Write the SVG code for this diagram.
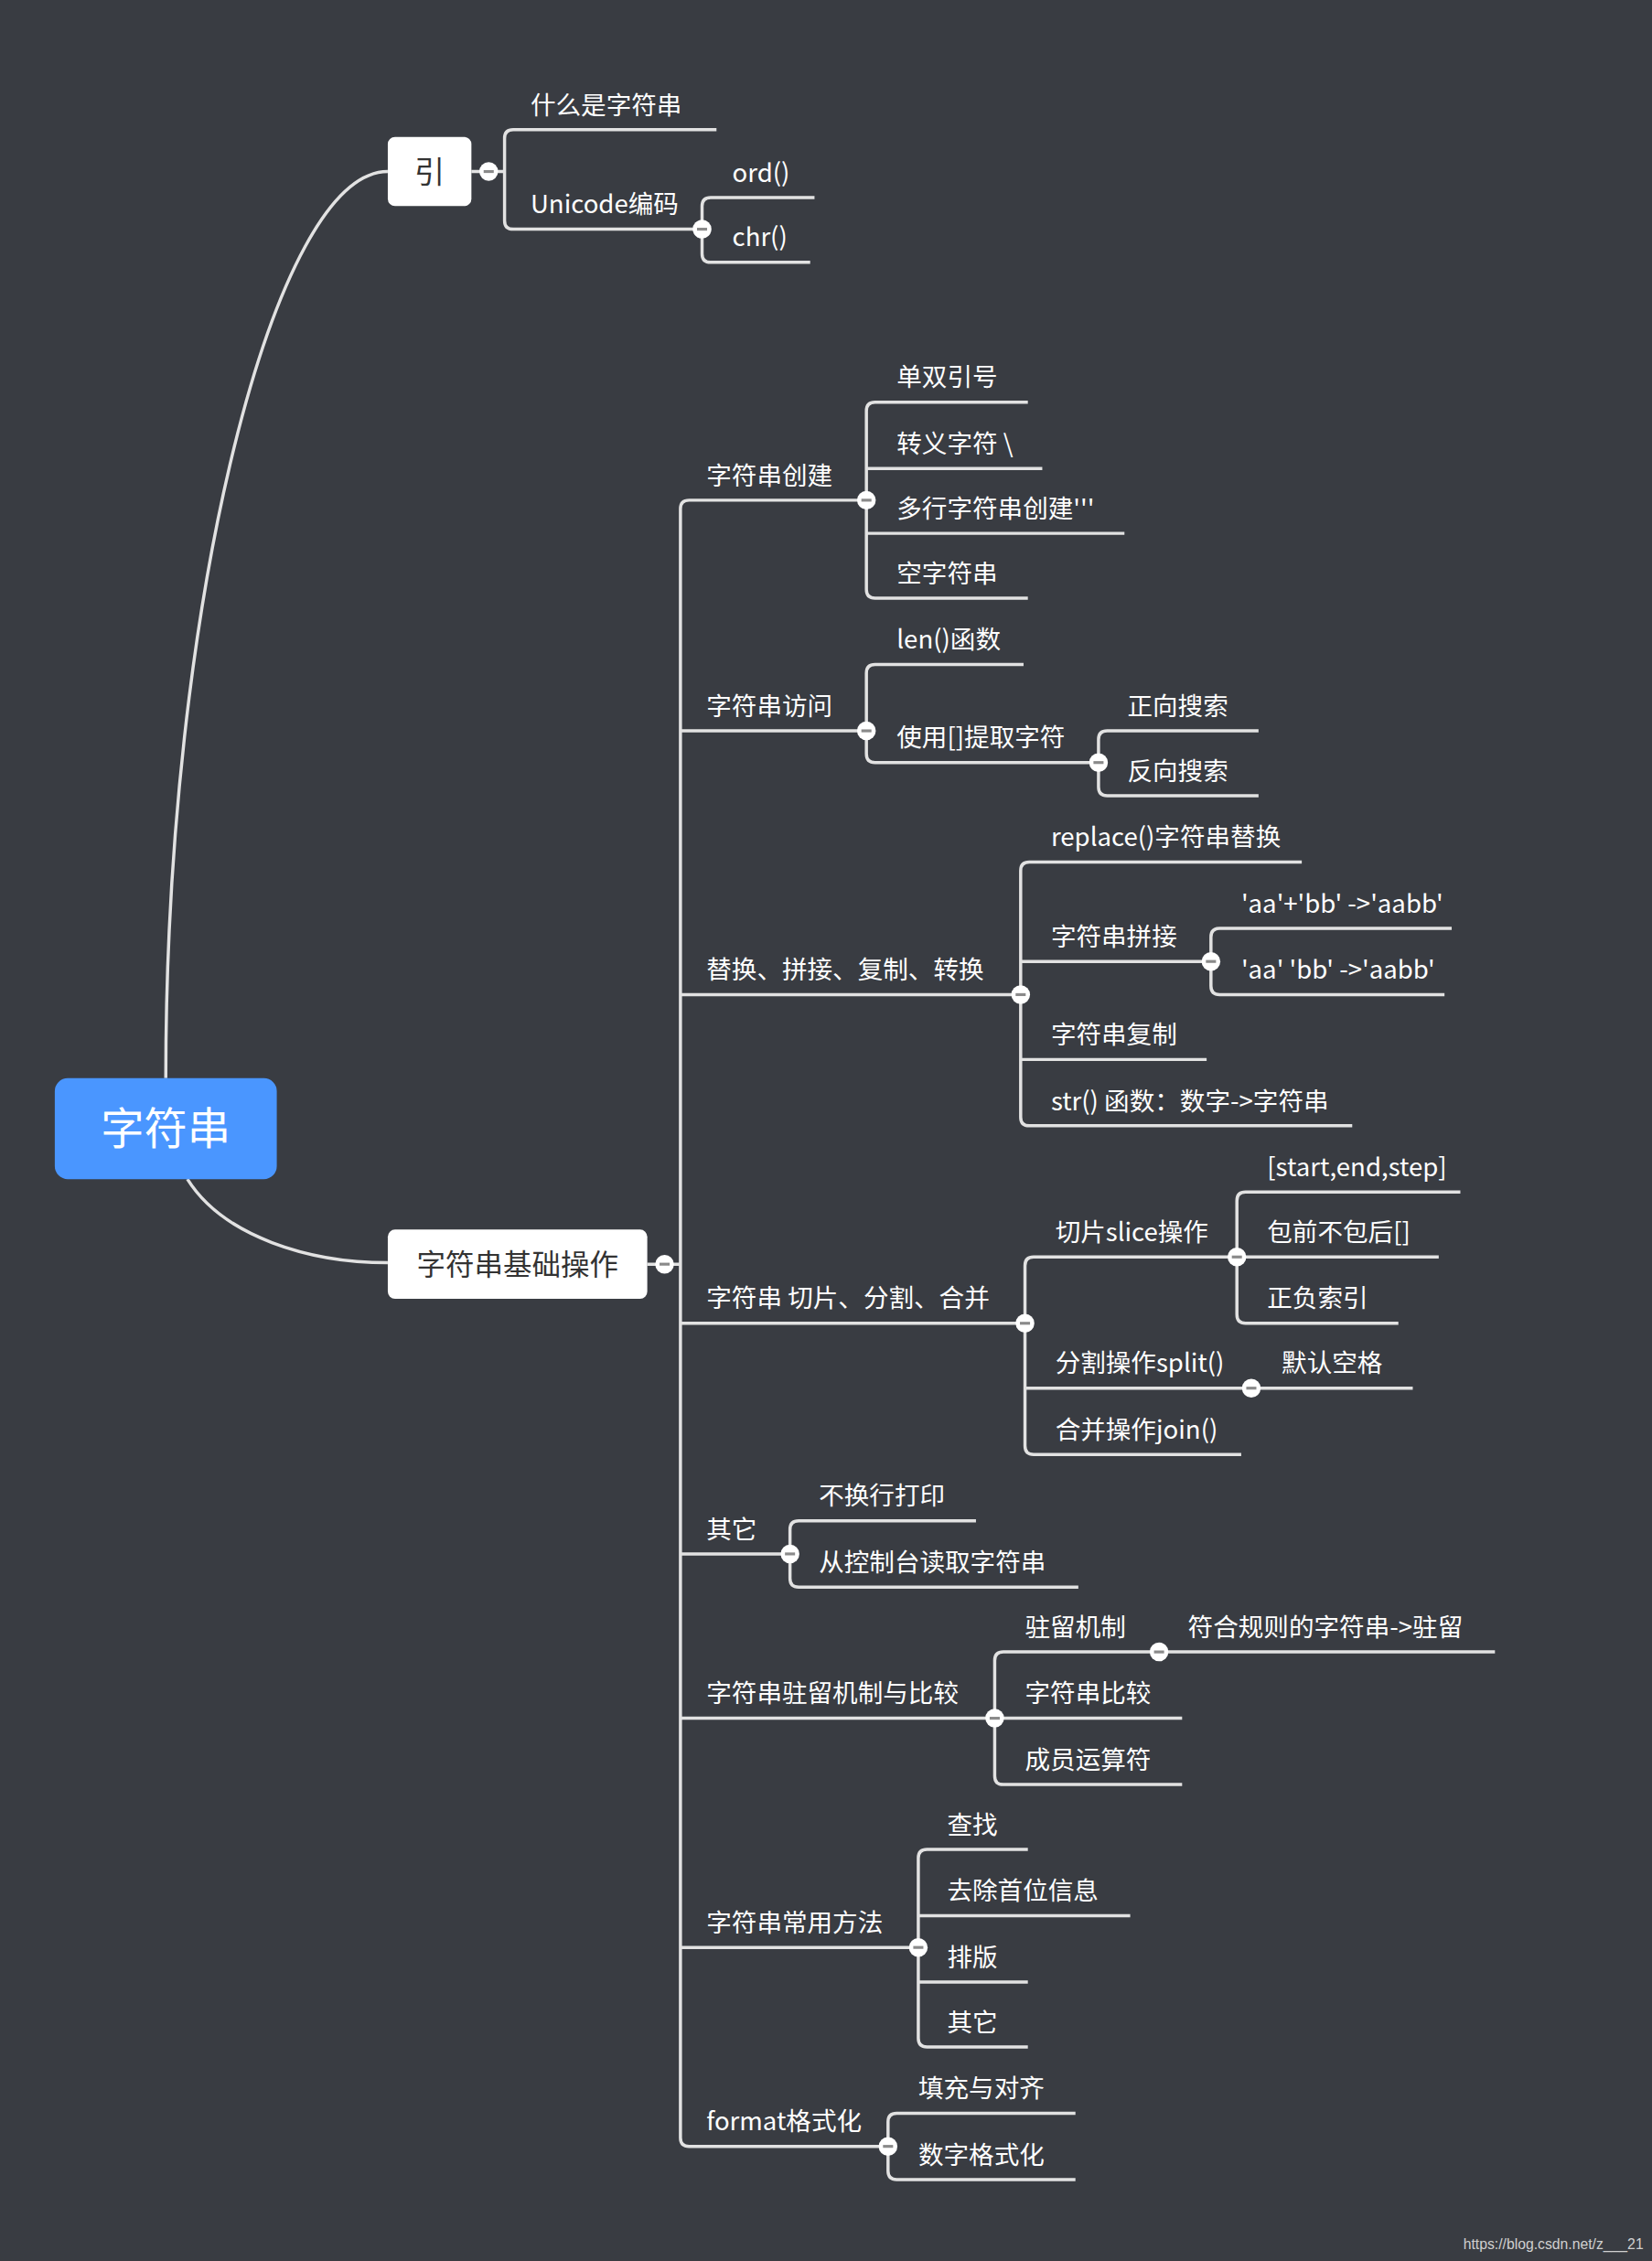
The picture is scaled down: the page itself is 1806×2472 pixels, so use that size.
<svg xmlns="http://www.w3.org/2000/svg" width="1806" height="2472" viewBox="0 0 1806 2472">
<style>
.l{fill:none;stroke:#e2e2e2;stroke-width:2.2}
.t{fill:#fff;font-size:17.5px;font-family:"Noto Sans CJK SC","Noto Sans",sans-serif}
.c{fill:#fff}
.m{fill:#8a8a8a}
</style>
<defs>
<g id="col"><circle class="c" r="6.5"/><rect class="m" x="-3.5" y="-1" width="7" height="2"/></g>
</defs>
<rect width="1806" height="2472" fill="#393c42"/>
<g transform="scale(1.576)">
<g id="connectors">
<path class="l" d="M115,748 C115,420 190,119 269,119"/>
<path class="l" d="M130,818 C155,858 215,876 269,876"/>
<path class="l" d="M327,119H350"/>
<path class="l" d="M497,90H356Q350,90 350,96V153Q350,159 356,159H487"/>
<path class="l" d="M565,137H493Q487,137 487,143V176Q487,182 493,182H562"/>
<path class="l" d="M449,877H472"/>
<path class="l" d="M601,347H478Q472,347 472,353V1483Q472,1489 478,1489H616"/>
<path class="l" d="M472,507H601M472,690H708M472,918H711M472,1078H548M472,1192H690M472,1351H637"/>
<path class="l" d="M713,279H607Q601,279 601,285V409Q601,415 607,415H713M601,325H723M601,370H780"/>
<path class="l" d="M710,461H607Q601,461 601,467V523Q601,529 607,529H762"/>
<path class="l" d="M873,507H768Q762,507 762,513V546Q762,552 768,552H873"/>
<path class="l" d="M903,598H714Q708,598 708,604V775Q708,781 714,781H938M708,667H840M708,735H837"/>
<path class="l" d="M1007,644H846Q840,644 840,650V684Q840,690 846,690H1002"/>
<path class="l" d="M858,872H717Q711,872 711,878V1003Q711,1009 717,1009H861M711,963H868"/>
<path class="l" d="M1013,827H864Q858,827 858,833V912Q858,918 864,918H970M858,872H998"/>
<path class="l" d="M868,963H980"/>
<path class="l" d="M677,1055H554Q548,1055 548,1061V1095Q548,1101 554,1101H748"/>
<path class="l" d="M804,1146H696Q690,1146 690,1152V1232Q690,1238 696,1238H820M690,1192H820"/>
<path class="l" d="M804,1146H1037"/>
<path class="l" d="M713,1283H643Q637,1283 637,1289V1414Q637,1420 643,1420H713M637,1329H784M637,1375H713"/>
<path class="l" d="M746,1466H622Q616,1466 616,1472V1506Q616,1512 622,1512H746"/>
</g>
<g id="collapsers">
<use href="#col" x="339" y="119"/><use href="#col" x="487" y="159"/><use href="#col" x="461" y="877"/>
<use href="#col" x="601" y="347"/><use href="#col" x="601" y="507"/><use href="#col" x="762" y="529"/>
<use href="#col" x="708" y="690"/><use href="#col" x="840" y="667"/><use href="#col" x="711" y="918"/>
<use href="#col" x="858" y="872"/><use href="#col" x="868" y="963"/><use href="#col" x="548" y="1078"/>
<use href="#col" x="690" y="1192"/><use href="#col" x="804" y="1146"/><use href="#col" x="637" y="1351"/>
<use href="#col" x="616" y="1489"/>
</g>
<g id="root"><rect x="38" y="748" width="154" height="70" rx="9" fill="#4a96ff"/><text x="115" y="794" text-anchor="middle" fill="#fff" font-size="30" font-family="Noto Sans CJK SC,sans-serif">字符串</text></g>
<g id="yin"><rect x="269" y="95" width="58" height="48" rx="5" fill="#fff"/><text x="298" y="127" text-anchor="middle" fill="#333" font-size="21" font-family="Noto Sans CJK SC,sans-serif">引</text></g>
<g id="basic"><rect x="269" y="853" width="180" height="48" rx="5" fill="#fff"/><text x="359" y="884.5" text-anchor="middle" fill="#333" font-size="20" font-family="Noto Sans CJK SC,sans-serif">字符串基础操作</text></g>
<g id="labels" class="t">
<text x="368" y="79">什么是字符串</text>
<text x="368" y="148">Unicode编码</text>
<text x="508" y="126">ord()</text>
<text x="508" y="171">chr()</text>
<text x="490" y="336">字符串创建</text>
<text x="490" y="496">字符串访问</text>
<text x="490" y="679">替换、拼接、复制、转换</text>
<text x="490" y="907">字符串 切片、分割、合并</text>
<text x="490" y="1067">其它</text>
<text x="490" y="1181">字符串驻留机制与比较</text>
<text x="490" y="1340">字符串常用方法</text>
<text x="490" y="1478">format格式化</text>
<text x="622" y="268">单双引号</text>
<text x="622" y="314">转义字符 \</text>
<text x="622" y="359">多行字符串创建'''</text>
<text x="622" y="404">空字符串</text>
<text x="622" y="450">len()函数</text>
<text x="622" y="518">使用[]提取字符</text>
<text x="782" y="496">正向搜索</text>
<text x="782" y="541">反向搜索</text>
<text x="729" y="587">replace()字符串替换</text>
<text x="729" y="656">字符串拼接</text>
<text x="729" y="724">字符串复制</text>
<text x="729" y="770">str() 函数：数字-&gt;字符串</text>
<text x="861" y="633">'aa'+'bb' -&gt;'aabb'</text>
<text x="861" y="679">'aa' 'bb' -&gt;'aabb'</text>
<text x="732" y="861">切片slice操作</text>
<text x="732" y="952">分割操作split()</text>
<text x="732" y="998">合并操作join()</text>
<text x="879" y="816">[start,end,step]</text>
<text x="879" y="861">包前不包后[]</text>
<text x="879" y="907">正负索引</text>
<text x="889" y="952">默认空格</text>
<text x="568" y="1044">不换行打印</text>
<text x="568" y="1090">从控制台读取字符串</text>
<text x="711" y="1135">驻留机制</text>
<text x="711" y="1181">字符串比较</text>
<text x="711" y="1227">成员运算符</text>
<text x="824" y="1135">符合规则的字符串-&gt;驻留</text>
<text x="657" y="1272">查找</text>
<text x="657" y="1318">去除首位信息</text>
<text x="657" y="1364">排版</text>
<text x="657" y="1409">其它</text>
<text x="637" y="1455">填充与对齐</text>
<text x="637" y="1501">数字格式化</text>
</g>
<text x="1015" y="1560" fill="#d0d0d0" font-size="10" font-family="Liberation Sans,sans-serif">https://blog.csdn.net/z___21</text>
</g>
</svg>
